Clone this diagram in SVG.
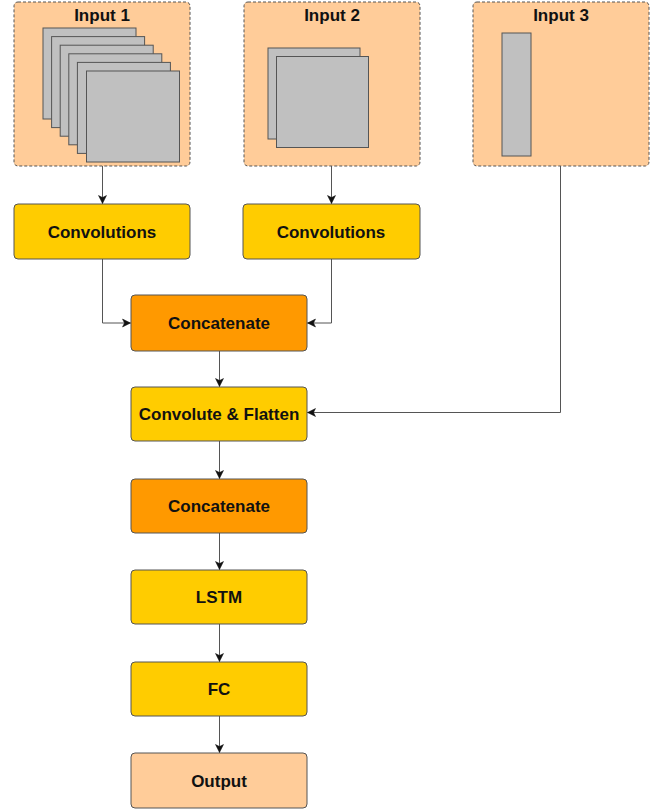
<svg xmlns="http://www.w3.org/2000/svg" width="665" height="810" viewBox="0 0 665 810">
<style>
.inp{fill:#FFCC99;stroke:#555;stroke-width:1;stroke-dasharray:3 2}
.sq{fill:#C0C0C0;stroke:#555;stroke-width:1}
.y{fill:#FFCC00;stroke:#555;stroke-width:1}
.o{fill:#FF9900;stroke:#555;stroke-width:1}
.p{fill:#FFCC99;stroke:#555;stroke-width:1}
text{font-family:"Liberation Sans",Arial,sans-serif;font-weight:bold;font-size:17px;fill:#111;text-anchor:middle}
.c{fill:none;stroke:#555;stroke-width:1}
</style>
<defs>
<marker id="a" markerWidth="10" markerHeight="10" refX="9" refY="5" orient="auto" markerUnits="userSpaceOnUse">
<path d="M1,1 L9,5 L1,9 L3,5 Z" fill="#111" stroke="#111" stroke-width="0.5"/>
</marker>
</defs>
<g id="input1">
<rect class="inp" x="14" y="2" width="176" height="164" rx="4"/>
<text x="102" y="21">Input 1</text>
<rect class="sq" x="43" y="28" width="93" height="91"/>
<rect class="sq" x="51.6" y="36.6" width="93" height="91"/>
<rect class="sq" x="60.2" y="45.2" width="93" height="91"/>
<rect class="sq" x="68.8" y="53.8" width="93" height="91"/>
<rect class="sq" x="77.4" y="62.4" width="93" height="91"/>
<rect class="sq" x="86.5" y="71" width="93" height="91"/>
</g>
<g id="input2">
<rect class="inp" x="244" y="2" width="176" height="164" rx="4"/>
<text x="332" y="21">Input 2</text>
<rect class="sq" x="268" y="48" width="92" height="91"/>
<rect class="sq" x="276.5" y="56.5" width="92" height="91"/>
</g>
<g id="input3">
<rect class="inp" x="473" y="2" width="176" height="164" rx="4"/>
<text x="561" y="21">Input 3</text>
<rect class="sq" x="502" y="33" width="29" height="123"/>
</g>
<g id="conv1"><rect class="y" x="14" y="204" width="176" height="55" rx="4"/><text x="102" y="238">Convolutions</text></g>
<g id="conv2"><rect class="y" x="243" y="204" width="177" height="55" rx="4"/><text x="331" y="238">Convolutions</text></g>
<g id="concat1"><rect class="o" x="131" y="295" width="176" height="56" rx="4"/><text x="219" y="329">Concatenate</text></g>
<g id="convflat"><rect class="y" x="131" y="387" width="176" height="54" rx="4"/><text x="219" y="420">Convolute &amp; Flatten</text></g>
<g id="concat2"><rect class="o" x="131" y="479" width="176" height="54" rx="4"/><text x="219" y="512">Concatenate</text></g>
<g id="lstm"><rect class="y" x="131" y="570" width="176" height="54" rx="4"/><text x="219" y="603">LSTM</text></g>
<g id="fc"><rect class="y" x="131" y="662" width="176" height="54" rx="4"/><text x="219" y="695">FC</text></g>
<g id="output"><rect class="p" x="131" y="753" width="176" height="55" rx="4"/><text x="219" y="787">Output</text></g>
<g id="connectors">
<path class="c" d="M102.5,166 V203.5" marker-end="url(#a)"/>
<path class="c" d="M331.5,166 V203.5" marker-end="url(#a)"/>
<path class="c" d="M102.5,259 V323 H130.5" marker-end="url(#a)"/>
<path class="c" d="M331.5,259 V323 H307.5" marker-end="url(#a)"/>
<path class="c" d="M219.5,351 V386.5" marker-end="url(#a)"/>
<path class="c" d="M560.5,166 V412.5 H307.5" marker-end="url(#a)"/>
<path class="c" d="M219.5,441 V478.5" marker-end="url(#a)"/>
<path class="c" d="M219.5,533 V569.5" marker-end="url(#a)"/>
<path class="c" d="M219.5,624 V661.5" marker-end="url(#a)"/>
<path class="c" d="M219.5,716 V752.5" marker-end="url(#a)"/>
</g>
</svg>
